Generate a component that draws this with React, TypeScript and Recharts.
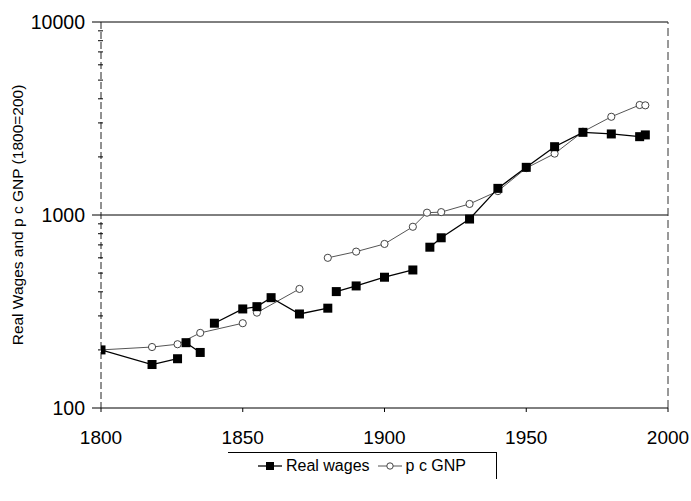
import { LineChart, Line, XAxis, YAxis, ReferenceLine } from "recharts";

// Real wages (1800=200); nulls mark breaks in the drawn line
const wageYears = [1800, 1818, 1827, 1829, 1830, 1835, 1837, 1840, 1850, 1855, 1860, 1870, 1880, 1881, 1883, 1890, 1900, 1910, 1913, 1916, 1920, 1930, 1940, 1950, 1960, 1970, 1980, 1990, 1992];
const wageValues = [200, 168, 180, null, 218, 194, null, 275, 326, 335, 373, 307, 329, null, 401, 429, 476, 519, null, 681, 762, 953, 1374, 1766, 2259, 2681, 2630, 2546, 2600];

// per capita GNP (1800=200)
const gnpYears = [1800, 1818, 1827, 1835, 1850, 1852, 1855, 1870, 1875, 1880, 1890, 1900, 1910, 1915, 1920, 1930, 1940, 1950, 1960, 1970, 1980, 1990, 1992];
const gnpValues = [200, 207, 214, 245, 275, null, 312, 414, null, 600, 646, 708, 869, 1028, 1035, 1141, 1330, 1750, 2080, 2700, 3228, 3715, 3700];

const xTicks = [1800, 1850, 1900, 1950, 2000];
const yTicks = [100, 200, 300, 400, 500, 600, 700, 800, 900, 1000, 2000, 3000, 4000, 5000, 6000, 7000, 8000, 9000, 10000];
const majorTicks = [100, 1000, 10000];

const wageData = wageYears.map((year, i) => ({ year, value: wageValues[i] }));
const gnpData = gnpYears.map((year, i) => ({ year, value: gnpValues[i] }));

const font = '"Liberation Sans", Arial, sans-serif';

function YTick(props: any) {
  const { x, y, payload } = props;
  const major = majorTicks.includes(payload.value);
  return (
    <g>
      <line x1={x - (major ? 9 : 3)} x2={x + (major ? 0 : 2)} y1={y} y2={y} stroke="#000" strokeWidth={1} />
      {major && (
        <text x={x - 16} y={y} dy={7} textAnchor="end" fontSize={19.5} fontFamily={font} fill="#000">
          {payload.value}
        </text>
      )}
    </g>
  );
}

function SquareDot(props: any) {
  const { cx, cy, index, value } = props;
  if (cx == null || cy == null || value == null) return <g key={`w-${index}`} />;
  return <rect key={`w-${index}`} x={cx - 4.5} y={cy - 4.5} width={9} height={9} fill="#000" />;
}

function CircleDot(props: any) {
  const { cx, cy, index, value } = props;
  if (cx == null || cy == null || value == null) return <g key={`g-${index}`} />;
  return <circle key={`g-${index}`} cx={cx} cy={cy} r={3.6} fill="#fff" stroke="#444" strokeWidth={1} />;
}

export default function App() {
  return (
    <div style={{ position: "relative", width: 691, height: 501, fontFamily: font, background: "#fff" }}>
      <style>{"html,body{margin:0;padding:0;overflow:hidden;}"}</style>
      <LineChart width={691} height={501} margin={{ top: 22, right: 23, left: 0, bottom: 53 }}>
        <XAxis
          dataKey="year"
          type="number"
          domain={[1800, 2000]}
          ticks={xTicks}
          allowDataOverflow
          height={40}
          tickSize={4}
          tickMargin={19}
          axisLine={{ stroke: "#000" }}
          tickLine={{ stroke: "#000" }}
          tick={{ fill: "#000", fontSize: 19, fontFamily: font }}
        />
        <YAxis
          scale="log"
          domain={[100, 10000]}
          ticks={yTicks}
          allowDataOverflow
          width={101}
          tickSize={0}
          tickMargin={0}
          tickLine={false}
          interval={0}
          axisLine={{ stroke: "#222", strokeDasharray: "7 3" }}
          tick={<YTick />}
          label={{
            value: "Real Wages and p c GNP (1800=200)",
            angle: -90,
            position: "insideLeft",
            offset: 17,
            style: { textAnchor: "middle", fontSize: 15.5, fontFamily: font, fill: "#000" },
          }}
        />
        <ReferenceLine y={10000} stroke="#000" strokeWidth={1} />
        <ReferenceLine y={1000} stroke="#000" strokeWidth={1} />
        <ReferenceLine x={2000} stroke="#333" strokeDasharray="8 4" />
        <Line
          data={gnpData}
          dataKey="value"
          name="p c GNP"
          stroke="#555"
          strokeWidth={1}
          dot={CircleDot}
          activeDot={false}
          isAnimationActive={false}
        />
        <Line
          data={wageData}
          dataKey="value"
          name="Real wages"
          stroke="#000"
          strokeWidth={1.3}
          dot={SquareDot}
          activeDot={false}
          isAnimationActive={false}
        />
      </LineChart>
      <div
        style={{
          position: "absolute",
          left: 228,
          top: 452,
          width: 268,
          height: 26,
          borderTop: "1px solid #000",
          borderRight: "1px solid #000",
          display: "flex",
          alignItems: "center",
          justifyContent: "center",
          fontSize: 16,
          color: "#000",
          gap: 4,
        }}
      >
        <svg width={24} height={12}>
          <line x1={0} x2={24} y1={6} y2={6} stroke="#000" strokeWidth={1.3} />
          <rect x={8} y={2} width={8} height={8} fill="#000" />
        </svg>
        <span style={{ marginRight: 4 }}>Real wages</span>
        <svg width={24} height={12}>
          <line x1={0} x2={24} y1={6} y2={6} stroke="#555" strokeWidth={1} />
          <circle cx={12} cy={6} r={3.2} fill="#fff" stroke="#444" />
        </svg>
        <span>p c GNP</span>
      </div>
    </div>
  );
}
